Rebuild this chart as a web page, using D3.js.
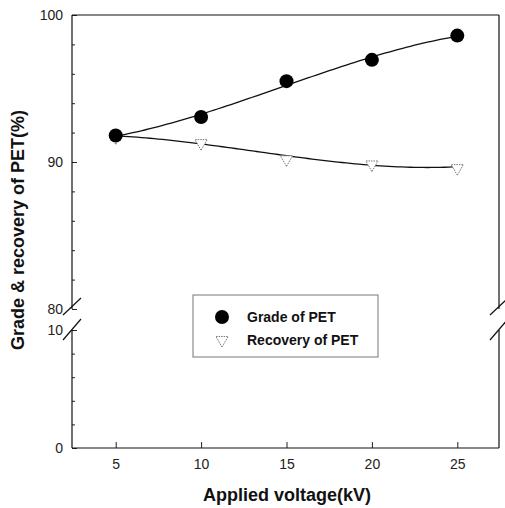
<!DOCTYPE html>
<html>
<head>
<meta charset="utf-8">
<script src="https://cdn.jsdelivr.net/npm/d3@7"></script>
<style>
  body { margin: 0; background: #fff; }
  text { font-family: "Liberation Sans", Arial, sans-serif; }
</style>
</head>
<body>
<div id="chart"></div>
<script>
// data
var voltage = [5, 10, 15, 20, 25]
var grade = [91.8, 93.06, 95.5, 96.95, 98.6]
var recovery = [91.75, 91.35, 90.25, 89.9, 89.65]
var xTicks = [5, 10, 15, 20, 25]
var upperTicks = [80, 90, 100]
var lowerTicks = [0, 10]
var seriesNames = ['Grade of PET', 'Recovery of PET']

var W = 505, H = 508
var pLeft = 72, pRight = 499, pTop = 15, pBottom = 448
var breakTop = 309, breakBottom = 330

var svg = d3.select('#chart').append('svg')
  .attr('width', W)
  .attr('height', H)

var x = d3.scaleLinear().domain([2.5, 27.5]).range([pLeft + 1, pRight + 1])
var yUp = d3.scaleLinear().domain([80, 100]).range([breakTop, pTop])
var yLow = d3.scaleLinear().domain([0, 10]).range([pBottom, breakBottom])
// piecewise y for the broken axis
function y (v) { return v >= 80 ? yUp(v) : yLow(v) }

// least squares polynomial fit (the figure shows fitted curves)
function polyFit (xs, ys, deg) {
  var n = deg + 1
  var A = [], b = []
  for (var r = 0; r < n; r++) {
    A.push([])
    for (var c = 0; c < n; c++) A[r].push(d3.sum(xs, function (v) { return Math.pow(v, r + c) }))
    b.push(d3.sum(xs, function (v, i) { return Math.pow(v, r) * ys[i] }))
  }
  for (var i = 0; i < n; i++) {
    for (var k = i + 1; k < n; k++) {
      var f = A[k][i] / A[i][i]
      for (var j = i; j < n; j++) A[k][j] -= f * A[i][j]
      b[k] -= f * b[i]
    }
  }
  var coef = new Array(n)
  for (i = n - 1; i >= 0; i--) {
    var s = b[i]
    for (j = i + 1; j < n; j++) s -= A[i][j] * coef[j]
    coef[i] = s / A[i][i]
  }
  return function (v) { return d3.sum(coef, function (c, p) { return c * Math.pow(v, p) }) }
}

// upper left axis
var gUp = svg.append('g').attr('transform', 'translate(' + pLeft + ',0)')
  .call(d3.axisLeft(yUp).tickValues(upperTicks).tickSize(-5).tickPadding(9).tickFormat(d3.format('d')))
gUp.append('g').call(d3.axisLeft(yUp).tickValues(d3.range(82, 100, 2)).tickSize(-3).tickFormat(''))

var gLow = svg.append('g').attr('transform', 'translate(' + pLeft + ',0)')
  .call(d3.axisLeft(yLow).tickValues(lowerTicks).tickSize(-5).tickPadding(9).tickFormat(d3.format('d')))
gLow.append('g').call(d3.axisLeft(yLow).tickValues(d3.range(2, 10, 2)).tickSize(-3).tickFormat(''))

var gx = svg.append('g').attr('transform', 'translate(0,' + pBottom + ')')
  .call(d3.axisBottom(x).tickValues(xTicks).tickSize(-6).tickPadding(11))

svg.selectAll('.domain').remove()
svg.selectAll('.tick text').attr('font-size', 14).attr('fill', '#222')
svg.selectAll('.tick line').attr('stroke', '#222')

// frame lines
var frame = svg.append('g').attr('stroke', '#111').attr('stroke-width', 1.2).attr('fill', 'none')
frame.append('line').attr('x1', pLeft).attr('x2', pLeft).attr('y1', pTop).attr('y2', breakTop)
frame.append('line').attr('x1', pLeft).attr('x2', pLeft).attr('y1', breakBottom).attr('y2', pBottom)
frame.append('line').attr('x1', pRight).attr('x2', pRight).attr('y1', pTop).attr('y2', breakTop)
frame.append('line').attr('x1', pRight).attr('x2', pRight).attr('y1', breakBottom).attr('y2', pBottom)
frame.append('line').attr('x1', pLeft).attr('x2', pRight).attr('y1', pTop).attr('y2', pTop)
frame.append('line').attr('x1', pLeft).attr('x2', pRight).attr('y1', pBottom).attr('y2', pBottom)

// break slashes
;[pLeft, pRight].forEach(function (bx) {
  frame.append('line').attr('x1', bx - 9).attr('y1', breakTop + 6).attr('x2', bx + 9).attr('y2', breakTop - 11)
  frame.append('line').attr('x1', bx - 9).attr('y1', breakBottom + 10).attr('x2', bx + 9).attr('y2', breakBottom - 11)
})

// fitted curves
var fitX = d3.range(5, 25.01, 0.25)
var line = d3.line()
  .x(function (d) { return x(d[0]) })
  .y(function (d) { return y(d[1]) })

;[grade, recovery].forEach(function (s) {
  var f = polyFit(voltage, s, 3)
  svg.append('path').datum(fitX.map(function (v) { return [v, f(v)] })).attr('d', line)
    .attr('fill', 'none').attr('stroke', '#111').attr('stroke-width', 1.3)
})

var tri = d3.symbol().type(d3.symbolTriangle).size(65)

svg.selectAll('.rec').data(recovery).enter()
  .append('path')
  .attr('class', 'rec')
  .attr('d', tri)
  .attr('transform', function (d, i) { return 'translate(' + x(voltage[i]) + ',' + (y(d) + 1) + ') rotate(180)' })
  .attr('fill', '#fff')
  .attr('stroke', '#777')
  .attr('stroke-width', 1)
  .attr('stroke-dasharray', '1.5,1')

svg.selectAll('.grade').data(grade).enter()
  .append('circle')
  .attr('class', 'grade')
  .attr('cx', function (d, i) { return x(voltage[i]) })
  .attr('cy', function (d) { return y(d) })
  .attr('r', 7)
  .attr('fill', '#000')

// legend
var lg = svg.append('g')
lg.append('rect').attr('x', 193).attr('y', 295).attr('width', 185).attr('height', 62)
  .attr('fill', '#fff').attr('stroke', '#777').attr('stroke-width', 1)
lg.append('circle').attr('cx', 222).attr('cy', 317).attr('r', 7).attr('fill', '#000')
lg.append('path').attr('d', tri).attr('transform', 'translate(222,340) rotate(180)')
  .attr('fill', '#fff').attr('stroke', '#777').attr('stroke-dasharray', '1.5,1')
lg.selectAll('.lt').data(seriesNames).enter()
  .append('text')
  .attr('class', 'lt')
  .attr('x', 247)
  .attr('y', function (d, i) { return 322 + i * 23 })
  .attr('font-size', 14)
  .attr('font-weight', 'bold')
  .attr('fill', '#111')
  .text(function (d) { return d })

// axis titles
svg.append('text')
  .attr('x', 287).attr('y', 501)
  .attr('text-anchor', 'middle')
  .attr('font-size', 18).attr('font-weight', 'bold').attr('fill', '#111')
  .text('Applied voltage(kV)')

svg.append('text')
  .attr('transform', 'translate(24,230) rotate(-90)')
  .attr('text-anchor', 'middle')
  .attr('font-size', 18).attr('font-weight', 'bold').attr('fill', '#111')
  .text('Grade & recovery of PET(%)')
</script>
</body>
</html>
